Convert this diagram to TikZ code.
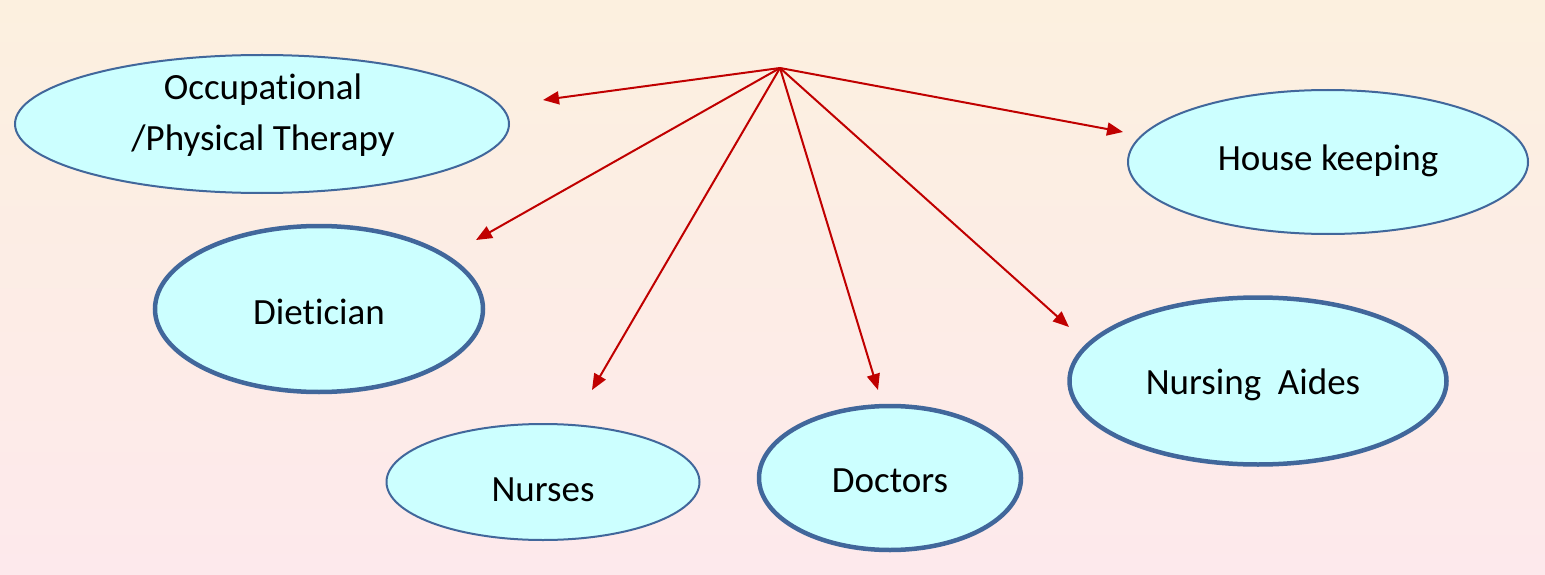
\documentclass[tikz,border=0pt]{standalone}
\usepackage{fontspec}
\setmainfont{Carlito}[Ligatures={NoCommon,NoRequired}]
\usetikzlibrary{shapes.geometric,arrows.meta}
\definecolor{bgtop}{HTML}{FCF0DF}
\definecolor{bgbot}{HTML}{FDE9EC}
\definecolor{ellfill}{HTML}{CCFFFF}
\definecolor{ellborder}{HTML}{41679B}
\definecolor{arrred}{HTML}{C00000}
\begin{document}
\begin{tikzpicture}[x=1pt,y=-1pt,
  ell/.style={ellipse,draw=ellborder,fill=ellfill,inner sep=0pt,line width=2pt},
  thick ell/.style={ell,line width=4.5pt},
  txt/.style={font=\fontsize{37}{51}\selectfont,text=black,align=center,inner sep=0pt,anchor=base},
  conn/.style={draw=arrred,line width=2pt,-{Triangle[length=16pt,width=13pt]}}]
\shade[top color=bgtop,bottom color=bgbot] (0,0) rectangle (1545,575);
\useasboundingbox (0,0) rectangle (1545,575);

\node[ell,minimum width=494pt,minimum height=138pt] (occ) at (262,124) {};
\node[ell,minimum width=400pt,minimum height=144pt] (house) at (1328,162) {};
\node[thick ell,minimum width=328pt,minimum height=166pt] (diet) at (319,309) {};
\node[thick ell,minimum width=377pt,minimum height=167pt] (aides) at (1258,381) {};
\node[ell,minimum width=313pt,minimum height=116pt] (nurses) at (543,482) {};
\node[thick ell,minimum width=262pt,minimum height=144pt] (docs) at (890,478) {};

\node[txt] (occT) at (263,150) {Occupational\\/Physical Therapy};
\node[txt] (houseT) at (1328,171) {House keeping};
\node[txt] (dietT) at (319,324) {Dietician};
\node[txt] (aidesT) at (1253,394) {Nursing~~Aides};
\node[txt] (nursesT) at (543,501) {Nurses};
\node[txt] (docsT) at (890,492) {Doctors};

\coordinate (src) at (780,68);
\coordinate (eOcc) at (543,100);
\coordinate (eDiet) at (476,240);
\coordinate (eNurses) at (592,390);
\coordinate (eDocs) at (878,390);
\coordinate (eAides) at (1069,327);
\coordinate (eHouse) at (1123,132);

\draw[conn] (src) -- (eOcc);
\draw[conn] (src) -- (eDiet);
\draw[conn] (src) -- (eNurses);
\draw[conn] (src) -- (eDocs);
\draw[conn] (src) -- (eAides);
\draw[conn] (src) -- (eHouse);
\end{tikzpicture}
\end{document}
